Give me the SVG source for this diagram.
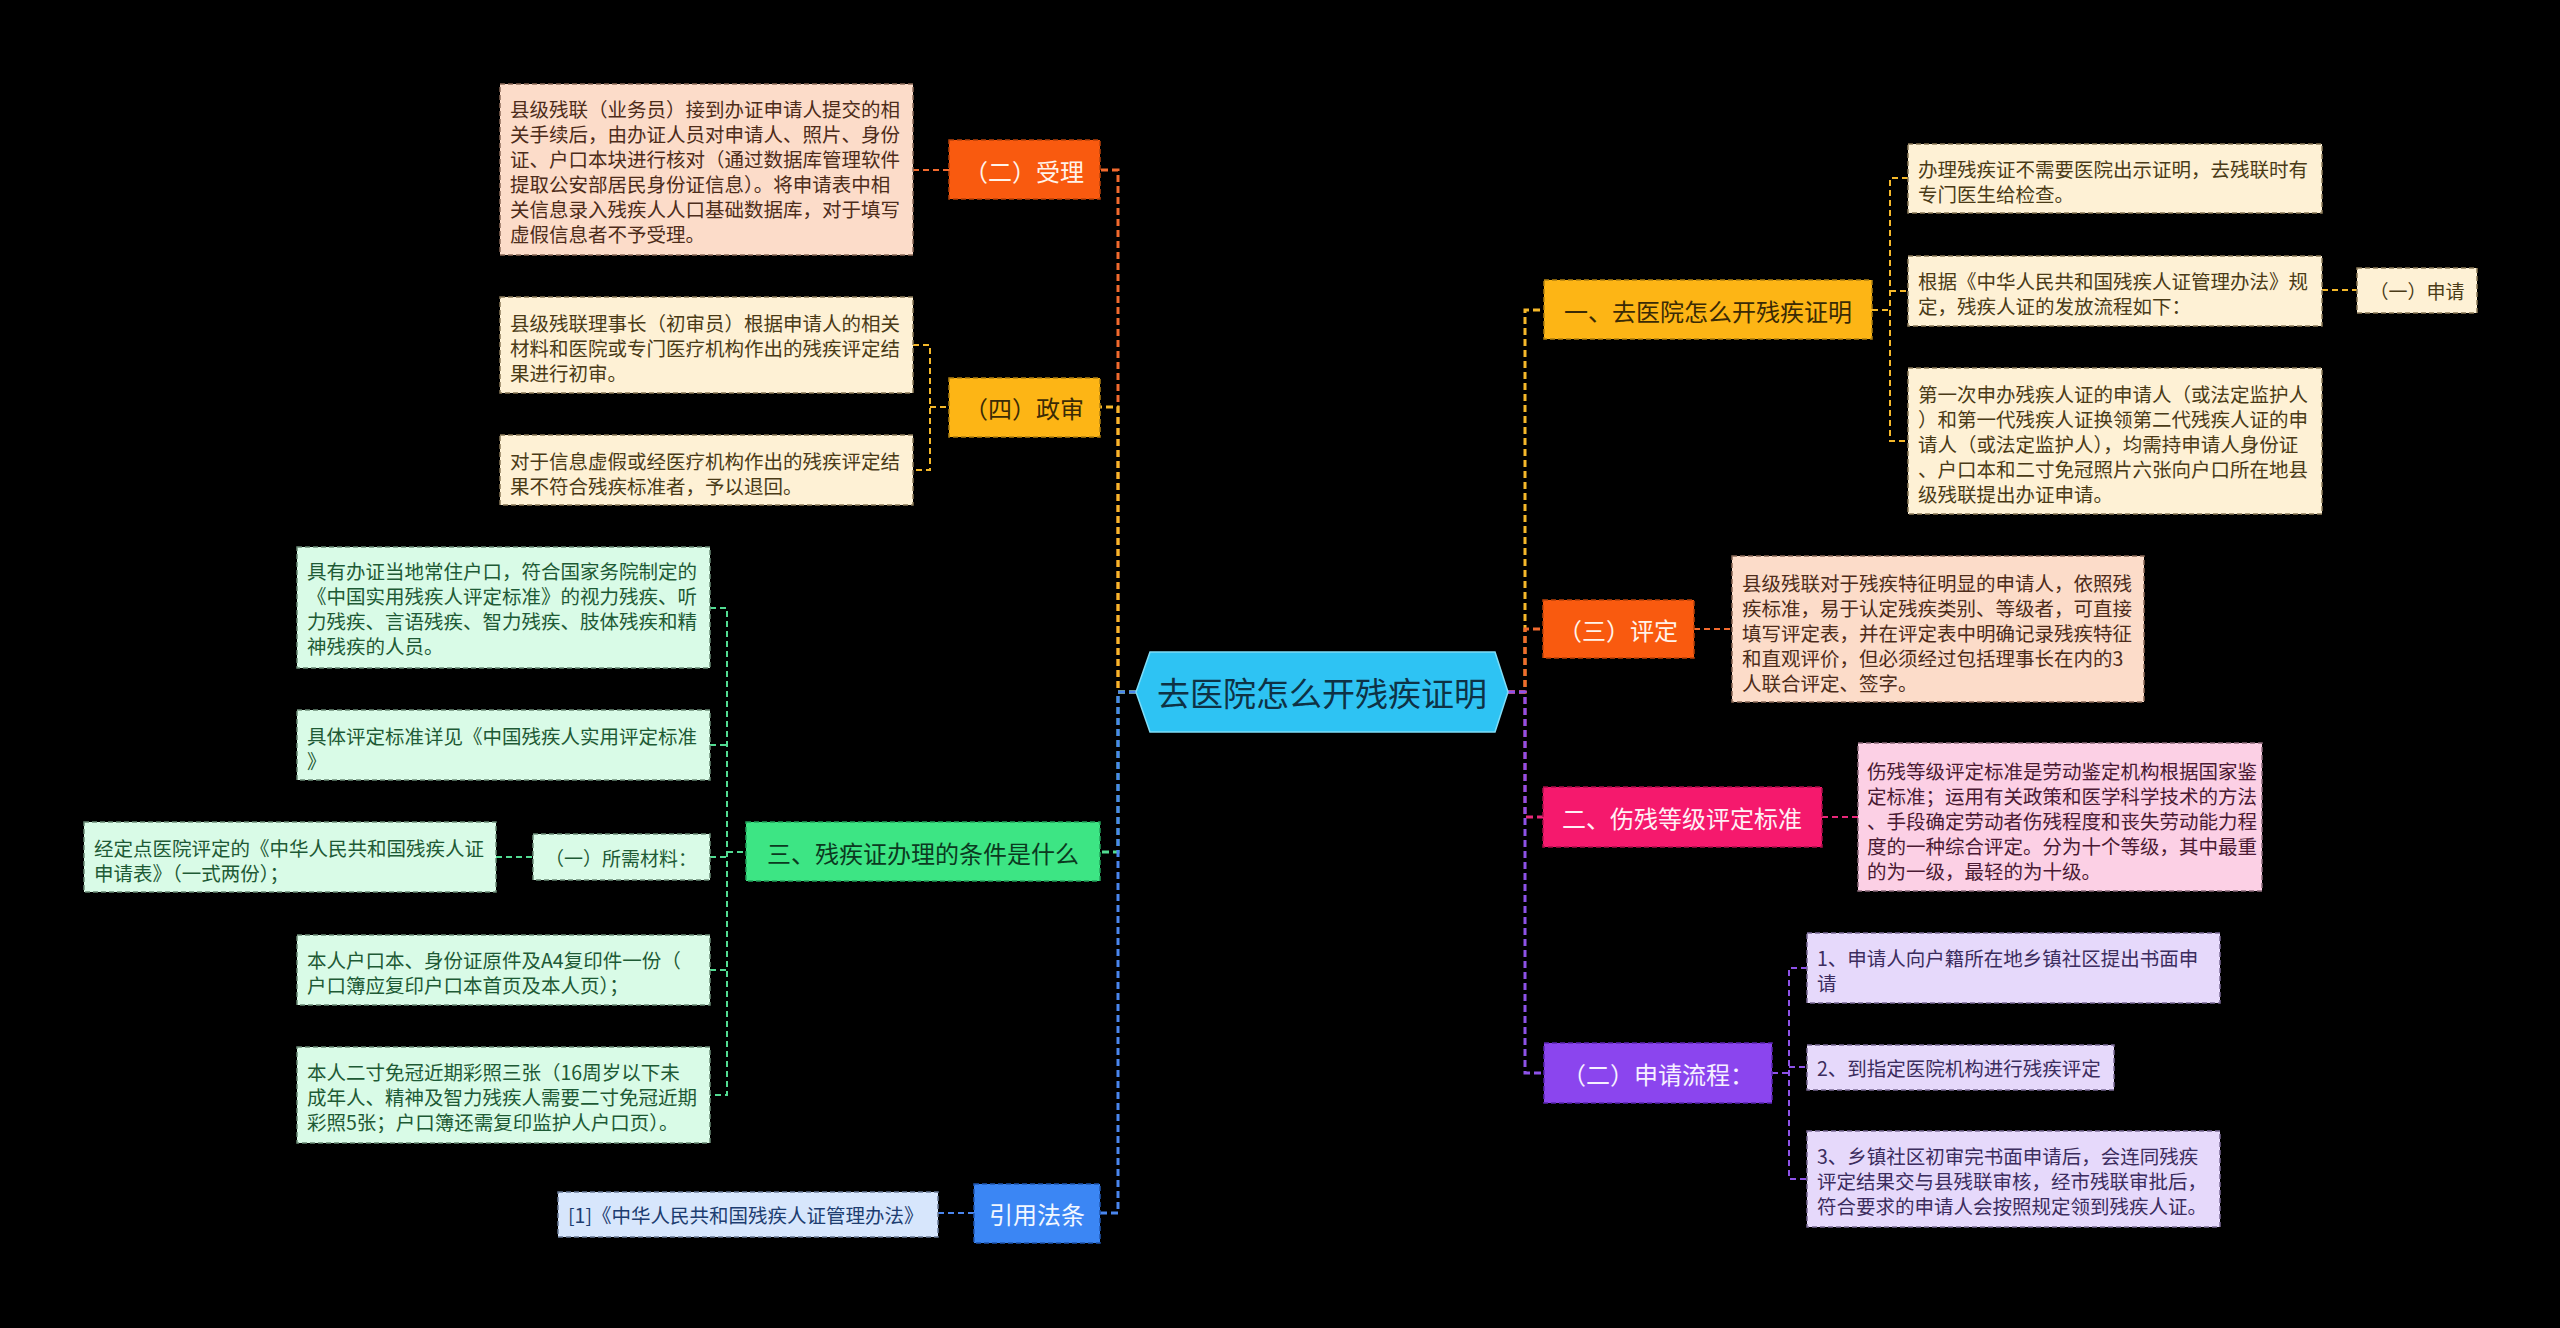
<svg xmlns="http://www.w3.org/2000/svg" width="2560" height="1328" viewBox="0 0 2560 1328">
<style>
text{font-family:"Noto Sans CJK SC","Noto Sans",sans-serif;dominant-baseline:central}
.lf{font-size:19.5px}
.l1{font-size:24px;text-anchor:middle}
.l2{font-size:19px;text-anchor:middle}
.bx{stroke-width:1.5;stroke-dasharray:5 3}
.cn{fill:none;stroke-width:2;stroke-dasharray:6 4}
.tr{fill:none;stroke-width:3;stroke-dasharray:7 4}
.or{stroke:#F26A2E}.ye{stroke:#F5B82A}.gr{stroke:#52DC92}.bl{stroke:#4A86EE}.pk{stroke:#E8287A}.pu{stroke:#8E52E8}
</style>
<rect width="2560" height="1328" fill="#000"/>
<g id="connectors">
<path class="tr or" d="M1136 692H1118V170H1100"/>
<path class="tr ye" d="M1136 692H1118V407H1100"/>
<path class="tr gr" d="M1136 692H1118V852H1100"/>
<path class="tr bl" d="M1136 692H1118V1213H1100"/>
<path class="tr ye" d="M1508 692H1525V310H1544"/>
<path class="tr or" d="M1508 692H1525V629H1543"/>
<path class="tr pk" d="M1508 692H1525V817H1543"/>
<path class="tr pu" d="M1508 692H1525V1073H1544"/>
<path class="cn or" d="M913 170H949"/>
<path class="cn ye" d="M913 345H930V470H913M930 407H949"/>
<path class="cn gr" d="M710 608H727V1095H710M710 745H727M710 857H727M710 970H727M727 852H746M496 857H533"/>
<path class="cn bl" d="M938 1213H974"/>
<path class="cn ye" d="M1872 310H1890M1908 178H1890V441H1908M1890 291H1908M2322 290H2357"/>
<path class="cn or" d="M1694 629H1732"/>
<path class="cn pk" d="M1822 817H1858"/>
<path class="cn pu" d="M1772 1073H1789M1807 968H1789V1179H1807M1789 1067H1807"/>
</g>
<g id="root">
<polygon points="1136,692 1150,652 1495,652 1508,692 1495,732 1150,732" fill="#2EC3F3" stroke="#7FDDF8" stroke-width="1.5"/>
<text x="1322" y="692" font-size="33" text-anchor="middle" fill="#0E3245">去医院怎么开残疾证明</text>
</g>
<g id="n-shouli">
<rect class="bx" x="949" y="140" width="151" height="59" fill="#F95A0F" stroke="#B9420A"/>
<text class="l1" x="1024" y="170" fill="#FFF3EA">（二）受理</text>
</g>
<g id="n-shouli-leaf">
<rect class="bx" x="500" y="84" width="413" height="171" fill="#FCDCC9" stroke="#8A6A58"/>
<text class="lf" x="510" fill="#4D2C1A"><tspan x="510" y="108">县级残联（业务员）接到办证申请人提交的相</tspan><tspan x="510" y="133">关手续后，由办证人员对申请人、照片、身份</tspan><tspan x="510" y="158">证、户口本块进行核对（通过数据库管理软件</tspan><tspan x="510" y="183">提取公安部居民身份证信息）。将申请表中相</tspan><tspan x="510" y="208">关信息录入残疾人人口基础数据库，对于填写</tspan><tspan x="510" y="233">虚假信息者不予受理。</tspan></text>
</g>
<g id="n-zhengshen">
<rect class="bx" x="949" y="378" width="151" height="59" fill="#FDB515" stroke="#B08010"/>
<text class="l1" x="1024" y="407" fill="#3A2A05">（四）政审</text>
</g>
<g id="n-zhengshen-leaf1">
<rect class="bx" x="500" y="297" width="413" height="96" fill="#FEF1D5" stroke="#8A7A58"/>
<text class="lf" fill="#4A3B17"><tspan x="510" y="322">县级残联理事长（初审员）根据申请人的相关</tspan><tspan x="510" y="347">材料和医院或专门医疗机构作出的残疾评定结</tspan><tspan x="510" y="372">果进行初审。</tspan></text>
</g>
<g id="n-zhengshen-leaf2">
<rect class="bx" x="500" y="435" width="413" height="70" fill="#FEF1D5" stroke="#8A7A58"/>
<text class="lf" fill="#4A3B17"><tspan x="510" y="460">对于信息虚假或经医疗机构作出的残疾评定结</tspan><tspan x="510" y="485">果不符合残疾标准者，予以退回。</tspan></text>
</g>
<g id="n-san">
<rect class="bx" x="746" y="822" width="354" height="59" fill="#3DE584" stroke="#22A05A"/>
<text class="l1" x="923" y="852" fill="#0B3A1F">三、残疾证办理的条件是什么</text>
</g>
<g id="n-san-leafA">
<rect class="bx" x="297" y="547" width="413" height="121" fill="#D9FBE7" stroke="#6A8A76"/>
<text class="lf" fill="#1E5A35"><tspan x="307" y="570">具有办证当地常住户口，符合国家务院制定的</tspan><tspan x="307" y="595">《中国实用残疾人评定标准》的视力残疾、听</tspan><tspan x="307" y="620">力残疾、言语残疾、智力残疾、肢体残疾和精</tspan><tspan x="307" y="645">神残疾的人员。</tspan></text>
</g>
<g id="n-san-leafB">
<rect class="bx" x="297" y="710" width="413" height="70" fill="#D9FBE7" stroke="#6A8A76"/>
<text class="lf" fill="#1E5A35"><tspan x="307" y="735">具体评定标准详见《中国残疾人实用评定标准</tspan><tspan x="307" y="760">》</tspan></text>
</g>
<g id="n-cailiao">
<rect class="bx" x="533" y="834" width="177" height="46" fill="#D9FBE7" stroke="#6A8A76"/>
<text class="l2" x="621" y="857" fill="#1E5A35">（一）所需材料：</text>
</g>
<g id="n-san-leafC">
<rect class="bx" x="84" y="822" width="412" height="70" fill="#D9FBE7" stroke="#6A8A76"/>
<text class="lf" fill="#1E5A35"><tspan x="94" y="847">经定点医院评定的《中华人民共和国残疾人证</tspan><tspan x="94" y="872">申请表》（一式两份）；</tspan></text>
</g>
<g id="n-san-leafD">
<rect class="bx" x="297" y="935" width="413" height="70" fill="#D9FBE7" stroke="#6A8A76"/>
<text class="lf" fill="#1E5A35"><tspan x="307" y="959">本人户口本、身份证原件及A4复印件一份（</tspan><tspan x="307" y="984">户口簿应复印户口本首页及本人页）；</tspan></text>
</g>
<g id="n-san-leafE">
<rect class="bx" x="297" y="1047" width="413" height="96" fill="#D9FBE7" stroke="#6A8A76"/>
<text class="lf" fill="#1E5A35"><tspan x="307" y="1071">本人二寸免冠近期彩照三张（16周岁以下未</tspan><tspan x="307" y="1096">成年人、精神及智力残疾人需要二寸免冠近期</tspan><tspan x="307" y="1121">彩照5张；户口簿还需复印监护人户口页）。</tspan></text>
</g>
<g id="n-yinyong">
<rect class="bx" x="974" y="1184" width="126" height="59" fill="#3B86F4" stroke="#1F55B0"/>
<text class="l1" x="1037" y="1213" font-size="25" fill="#F2F7FF">引用法条</text>
</g>
<g id="n-yinyong-leaf">
<rect class="bx" x="558" y="1192" width="380" height="45" fill="#D7E6FC" stroke="#6A7A95"/>
<text class="lf" x="568" y="1214" font-size="19" fill="#1D3D70">[1]《中华人民共和国残疾人证管理办法》</text>
</g>
<g id="n-yi">
<rect class="bx" x="1544" y="280" width="328" height="59" fill="#FDB515" stroke="#B08010"/>
<text class="l1" x="1708" y="310" font-size="25" fill="#3A2A05">一、去医院怎么开残疾证明</text>
</g>
<g id="n-yi-leaf1">
<rect class="bx" x="1908" y="144" width="414" height="69" fill="#FEF1D5" stroke="#8A7A58"/>
<text class="lf" fill="#4A3B17"><tspan x="1918" y="168">办理残疾证不需要医院出示证明，去残联时有</tspan><tspan x="1918" y="193">专门医生给检查。</tspan></text>
</g>
<g id="n-yi-leaf2">
<rect class="bx" x="1908" y="256" width="414" height="70" fill="#FEF1D5" stroke="#8A7A58"/>
<text class="lf" fill="#4A3B17"><tspan x="1918" y="280">根据《中华人民共和国残疾人证管理办法》规</tspan><tspan x="1918" y="305">定，残疾人证的发放流程如下：</tspan></text>
</g>
<g id="n-shenqing">
<rect class="bx" x="2357" y="268" width="120" height="45" fill="#FEF1D5" stroke="#8A7A58"/>
<text class="l2" x="2417" y="290" fill="#4A3B17">（一）申请</text>
</g>
<g id="n-yi-leaf3">
<rect class="bx" x="1908" y="368" width="414" height="146" fill="#FEF1D5" stroke="#8A7A58"/>
<text class="lf" fill="#4A3B17"><tspan x="1918" y="393">第一次申办残疾人证的申请人（或法定监护人</tspan><tspan x="1918" y="418">）和第一代残疾人证换领第二代残疾人证的申</tspan><tspan x="1918" y="443">请人（或法定监护人），均需持申请人身份证</tspan><tspan x="1918" y="468">、户口本和二寸免冠照片六张向户口所在地县</tspan><tspan x="1918" y="493">级残联提出办证申请。</tspan></text>
</g>
<g id="n-pingding">
<rect class="bx" x="1543" y="600" width="151" height="58" fill="#F95A0F" stroke="#B9420A"/>
<text class="l1" x="1618" y="629" fill="#FFF3EA">（三）评定</text>
</g>
<g id="n-pingding-leaf">
<rect class="bx" x="1732" y="556" width="412" height="146" fill="#FCDCC9" stroke="#8A6A58"/>
<text class="lf" fill="#4D2C1A"><tspan x="1742" y="582">县级残联对于残疾特征明显的申请人，依照残</tspan><tspan x="1742" y="607">疾标准，易于认定残疾类别、等级者，可直接</tspan><tspan x="1742" y="632">填写评定表，并在评定表中明确记录残疾特征</tspan><tspan x="1742" y="657">和直观评价，但必须经过包括理事长在内的3</tspan><tspan x="1742" y="682">人联合评定、签字。</tspan></text>
</g>
<g id="n-er">
<rect class="bx" x="1543" y="787" width="279" height="60" fill="#F5196D" stroke="#A80E48"/>
<text class="l1" x="1682" y="817" font-size="25" fill="#FFF0F5">二、伤残等级评定标准</text>
</g>
<g id="n-er-leaf">
<rect class="bx" x="1858" y="743" width="404" height="148" fill="#FCD0E5" stroke="#8A6A7A"/>
<text class="lf" fill="#4A1A33"><tspan x="1867" y="770">伤残等级评定标准是劳动鉴定机构根据国家鉴</tspan><tspan x="1867" y="795">定标准；运用有关政策和医学科学技术的方法</tspan><tspan x="1867" y="820">、手段确定劳动者伤残程度和丧失劳动能力程</tspan><tspan x="1867" y="845">度的一种综合评定。分为十个等级，其中最重</tspan><tspan x="1867" y="870">的为一级，最轻的为十级。</tspan></text>
</g>
<g id="n-liucheng">
<rect class="bx" x="1544" y="1043" width="228" height="60" fill="#8B45EE" stroke="#5A25B0"/>
<text class="l1" x="1658" y="1073" fill="#F6F0FF">（二）申请流程：</text>
</g>
<g id="n-liucheng-leaf1">
<rect class="bx" x="1807" y="933" width="413" height="70" fill="#E6D9FB" stroke="#7A6A95"/>
<text class="lf" fill="#3C2D5E"><tspan x="1817" y="957">1、申请人向户籍所在地乡镇社区提出书面申</tspan><tspan x="1817" y="982">请</tspan></text>
</g>
<g id="n-liucheng-leaf2">
<rect class="bx" x="1807" y="1045" width="307" height="45" fill="#E6D9FB" stroke="#7A6A95"/>
<text class="lf" x="1817" y="1067" fill="#3C2D5E">2、到指定医院机构进行残疾评定</text>
</g>
<g id="n-liucheng-leaf3">
<rect class="bx" x="1807" y="1131" width="413" height="96" fill="#E6D9FB" stroke="#7A6A95"/>
<text class="lf" fill="#3C2D5E"><tspan x="1817" y="1155">3、乡镇社区初审完书面申请后，会连同残疾</tspan><tspan x="1817" y="1180">评定结果交与县残联审核，经市残联审批后，</tspan><tspan x="1817" y="1205">符合要求的申请人会按照规定领到残疾人证。</tspan></text>
</g>
</svg>
